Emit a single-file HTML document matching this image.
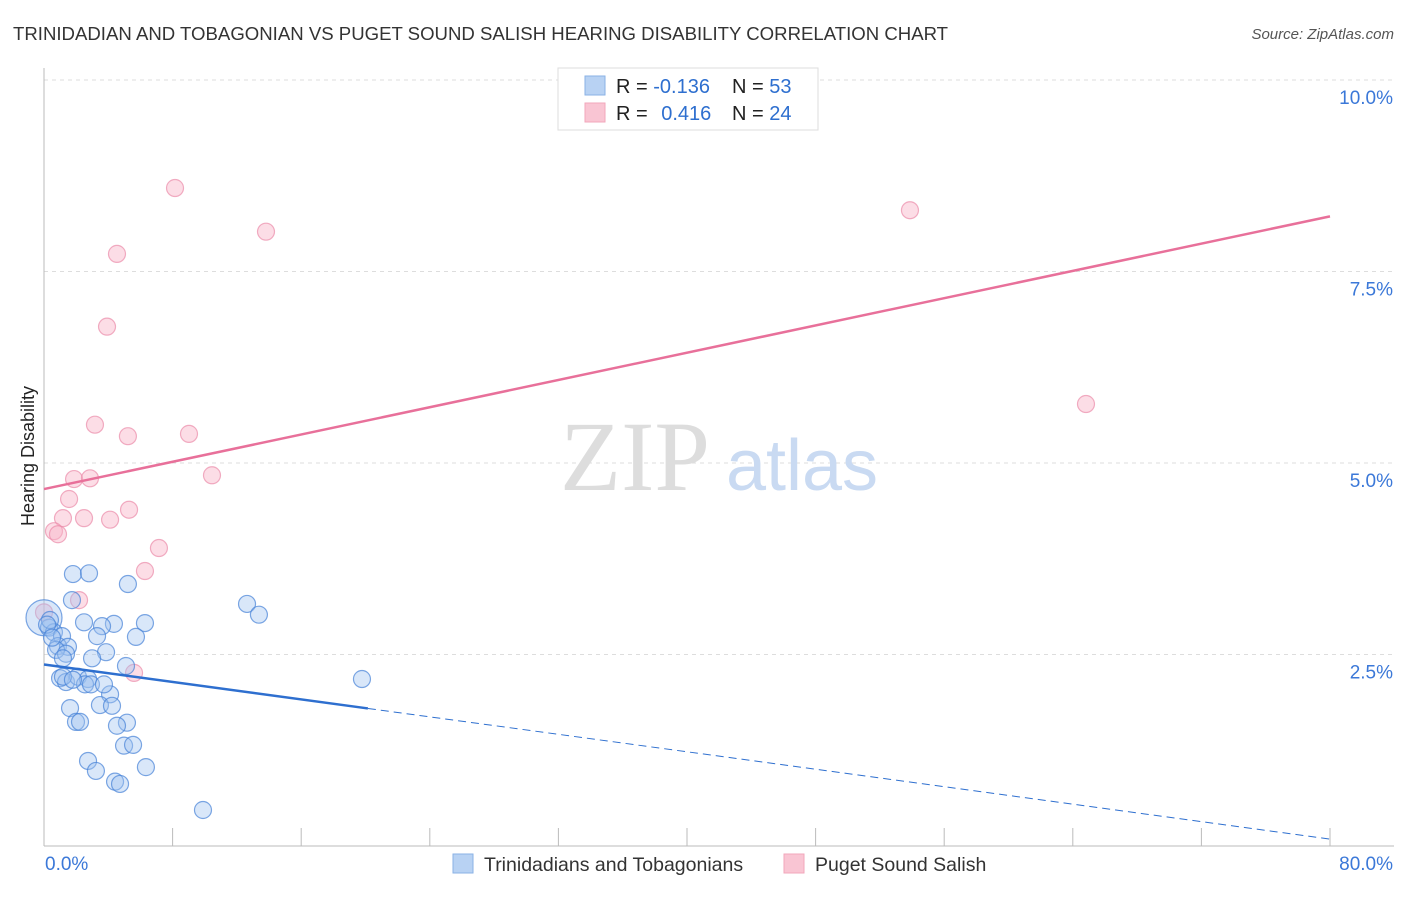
<!DOCTYPE html>
<html><head><meta charset="utf-8"><style>
body{margin:0;background:#fff;font-family:"Liberation Sans",sans-serif;}
svg text{font-family:"Liberation Sans",sans-serif;}
</style></head><body>
<svg id="chart" width="1406" height="892" xmlns="http://www.w3.org/2000/svg">
<text x="13" y="40" font-size="18.6" fill="#333">TRINIDADIAN AND TOBAGONIAN VS PUGET SOUND SALISH HEARING DISABILITY CORRELATION CHART</text>
<text x="1394" y="39" font-size="15" fill="#555" font-style="italic" text-anchor="end">Source: ZipAtlas.com</text>
<g id="grid"></g>
<text transform="translate(34,456) rotate(-90)" font-size="18" fill="#222" text-anchor="middle">Hearing Disability</text>
<g>
<text x="635" y="490" font-size="100" fill="#ddd" style="font-family:'Liberation Serif',serif" text-anchor="middle">ZIP</text>
<text x="802" y="490" font-size="72" fill="#c9daf2" text-anchor="middle">atlas</text>
</g>
<g id="marks"></g>
<g>
<rect x="558" y="68" width="260" height="62" fill="#fff" stroke="#ddd"/>
<rect x="585" y="76" width="20" height="19" fill="#b8d2f3" stroke="#8ab2e6"/>
<rect x="585" y="103" width="20" height="19" fill="#f9c5d3" stroke="#f2a7bb"/>
<text x="616" y="93" font-size="20" fill="#222">R = <tspan fill="#2e6fcf">-0.136</tspan></text>
<text x="732" y="93" font-size="20" fill="#222">N = <tspan fill="#2e6fcf">53</tspan></text>
<text x="616" y="120" font-size="20" fill="#222">R = <tspan fill="#2e6fcf" dx="8">0.416</tspan></text>
<text x="732" y="120" font-size="20" fill="#222">N = <tspan fill="#2e6fcf">24</tspan></text>
</g>
<g>
<rect x="453" y="854" width="20" height="19" fill="#b8d2f3" stroke="#8ab2e6"/>
<text x="484" y="871" font-size="19.5" fill="#333">Trinidadians and Tobagonians</text>
<rect x="784" y="854" width="20" height="19" fill="#f9c5d3" stroke="#f2a7bb"/>
<text x="815" y="871" font-size="19.5" fill="#333">Puget Sound Salish</text>
</g>
</svg>
<script>
const blueX=[1.80,2.80,5.22,1.74,12.63,13.37,0,2.49,4.35,6.28,3.61,0.31,0.62,1.12,3.30,5.72,0.87,1.49,0.75,1.37,3.86,2.99,1.18,5.10,19.78,1.00,1.37,2.11,2.74,2.55,2.92,4.11,1.62,3.48,4.23,5.16,1.99,2.24,4.54,4.98,5.54,2.74,3.23,6.34,4.42,4.73,9.89,0.37,0.19,0.50,1.18,1.80,3.73];
const blueY=[3.55,3.56,3.42,3.21,3.16,3.02,2.98,2.92,2.90,2.91,2.87,2.85,2.79,2.74,2.74,2.73,2.61,2.60,2.56,2.51,2.53,2.45,2.45,2.35,2.18,2.19,2.14,2.21,2.18,2.11,2.11,1.98,1.80,1.84,1.83,1.61,1.62,1.62,1.57,1.31,1.32,1.11,0.98,1.03,0.84,0.81,0.47,2.95,2.89,2.72,2.21,2.17,2.11];
const pinkX=[8.15,13.81,4.54,3.92,3.17,5.22,9.02,53.87,64.82,10.45,1.87,2.86,1.56,1.18,2.49,5.29,4.11,0.62,0.87,7.15,6.28,2.18,5.60,0];
const pinkY=[8.59,8.02,7.73,6.78,5.50,5.35,5.38,8.30,5.77,4.84,4.79,4.80,4.53,4.28,4.28,4.39,4.26,4.11,4.07,3.89,3.59,3.21,2.26,3.05];
const yTicks=[2.5,5.0,7.5,10.0];
const yTickLabels=["2.5%","5.0%","7.5%","10.0%"];
const xTicks=[0,8,16,24,32,40,48,56,64,72,80];
const blueTrend=[2.37,0.09]; const blueSolidEnd=20.15;
const pinkTrend=[4.66,8.22];
const X=v=>44+v/80*1286, Y=v=>846-v*76.6;
const NS="http://www.w3.org/2000/svg";
function mk(t,a,p){const e=document.createElementNS(NS,t);for(const k in a)e.setAttribute(k,a[k]);p.appendChild(e);return e;}
const grid=document.getElementById('grid'), marks=document.getElementById('marks');
yTicks.forEach((t,i)=>{
 const l=mk('line',{x1:44,x2:1394,y1:Y(t),y2:Y(t),stroke:'#ddd','stroke-dasharray':'4,4'},grid);
 
 
 const tx=mk('text',{x:1393,y:Y(t)+24,'font-size':19,fill:'#3b78d8','text-anchor':'end'},grid);
 tx.textContent=yTickLabels[i];
 
 
});
const ax=mk('line',{x1:44,x2:44,y1:68,y2:846,stroke:'#bbb'},grid);


const bx=mk('line',{x1:44,x2:1394,y1:846,y2:846,stroke:'#bbb'},grid);


xTicks.forEach(t=>{const l=mk('line',{x1:X(t),x2:X(t),y1:828,y2:846,stroke:'#bbb'},grid);
 
 });
const x0=mk('text',{x:45,y:870,'font-size':19,fill:'#3b78d8'},grid);x0.textContent='0.0%';


const x1=mk('text',{x:1393,y:870,'font-size':19,fill:'#3b78d8','text-anchor':'end'},grid);x1.textContent='80.0%';


pinkX.forEach((v,i)=>{const c=mk('circle',{cx:X(v),cy:Y(pinkY[i]),r:8.5,fill:'rgba(248,180,200,0.45)',stroke:'rgba(235,140,170,0.7)','stroke-width':1.2},marks);
 
 });
blueX.forEach((v,i)=>{const c=mk('circle',{cx:X(v),cy:Y(blueY[i]),r:i==6?18:8.5,fill:'rgba(160,195,240,0.4)',stroke:'rgba(70,130,215,0.7)','stroke-width':1.2},marks);
 
 });
const by=v=>blueTrend[0]+(blueTrend[1]-blueTrend[0])*v/80;
const b1=mk('line',{x1:X(0),y1:Y(by(0)),x2:X(blueSolidEnd),y2:Y(by(blueSolidEnd)),stroke:'#2e6fcf','stroke-width':2.5},marks);


const b2=mk('line',{x1:X(blueSolidEnd),y1:Y(by(blueSolidEnd)),x2:X(80),y2:Y(by(80)),stroke:'#2e6fcf','stroke-width':1,'stroke-dasharray':'8,5'},marks);


const p1=mk('line',{x1:X(0),y1:Y(pinkTrend[0]),x2:X(80),y2:Y(pinkTrend[1]),stroke:'#e8709a','stroke-width':2.5},marks);


</script>
</body></html>
